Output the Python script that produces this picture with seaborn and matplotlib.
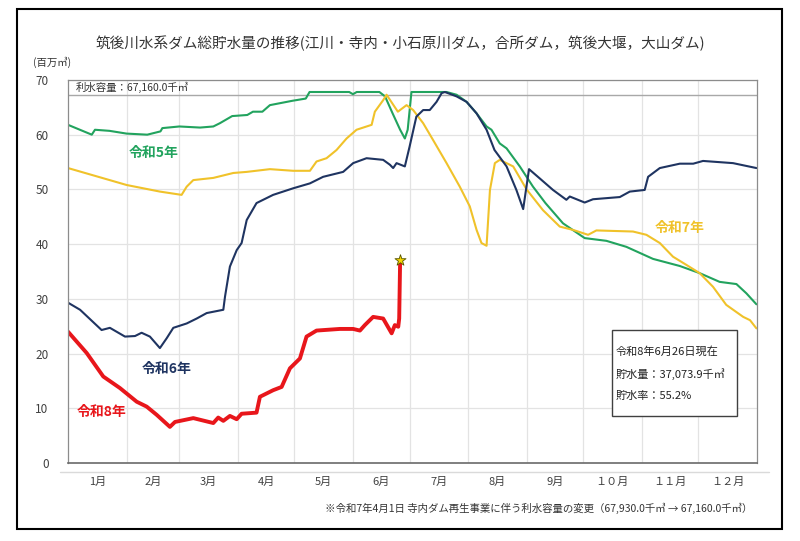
import numpy as np
import pandas as pd
import seaborn as sns
import matplotlib.pyplot as plt
from matplotlib.patches import Rectangle
from matplotlib.lines import Line2D

# 日数(1月1日=0)と総貯水量(百万㎥)
r5_day = [0, 12.6, 14.3, 22, 31, 42, 49, 50, 59, 70, 77, 80.5, 87, 95, 98, 103, 107, 119, 126, 128,
          149, 151, 153, 165, 168, 172, 176, 178.5, 180, 182, 200.6, 205.9, 211.2, 216.5, 221.8,
          224.4, 228.8, 232.4, 239.4, 246.4, 253, 262.3, 273.8, 285.3, 295.9, 310, 324.2, 334.7,
          345.3, 354.2, 359.5, 364.8]
r5_val = [61.8, 60.0, 60.9, 60.7, 60.2, 60.0, 60.6, 61.2, 61.5, 61.3, 61.5, 62.1, 63.4, 63.6, 64.2,
          64.2, 65.4, 66.2, 66.6, 67.8, 67.8, 67.4, 67.8, 67.8, 67.0, 63.9, 60.9, 59.3, 60.9, 67.8,
          67.8, 67.3, 66.0, 63.9, 61.5, 60.9, 58.4, 57.5, 54.2, 50.5, 47.5, 43.8, 41.1, 40.6, 39.5,
          37.3, 36.0, 34.7, 33.1, 32.7, 31.0, 29.0]

r6_day = [0, 6.4, 17.8, 22.2, 30.2, 35.5, 39, 43.4, 48.7, 52.3, 55.8, 62.9, 68.2, 73.5, 82.3, 83.2,
          85.8, 89.4, 92, 94.7, 99.9, 108.7, 119.3, 128.2, 135.2, 145.8, 151.1, 158.2, 167, 170.6,
          172.3, 174.1, 178.5, 181, 184.6, 188.2, 191.7, 195.3, 198, 199.7, 205.9, 211.2, 216.5,
          221.8, 226, 232.4, 237.6, 241.2, 244.3, 250, 257, 264.1, 265.9, 273.8, 278.2, 292.4,
          297.7, 305.6, 307.4, 313.6, 324.2, 331.3, 336.5, 352.4, 364.8]
r6_val = [29.3, 28.0, 24.3, 24.7, 23.1, 23.2, 23.8, 23.1, 21.0, 22.8, 24.7, 25.5, 26.4, 27.4, 28.0,
          30.4, 35.9, 38.9, 40.2, 44.4, 47.5, 49.0, 50.2, 51.1, 52.3, 53.2, 54.8, 55.7, 55.4, 54.5,
          53.9, 54.8, 54.2, 57.8, 63.3, 64.5, 64.5, 66.0, 67.6, 67.8, 67.0, 66.0, 63.9, 60.9, 57.2,
          54.2, 49.9, 46.4, 53.7, 52.0, 49.9, 48.1, 48.7, 47.6, 48.2, 48.6, 49.6, 49.9, 52.3, 53.9,
          54.7, 54.7, 55.2, 54.8, 53.9]

r7_day = [0, 31.1, 48.7, 60.2, 62.9, 66.4, 77, 87.6, 94.7, 107, 119.3, 128.2, 131.7, 137, 142.3,
          147.6, 152.9, 160.9, 162.6, 167, 168.8, 174.8, 179.4, 182.9, 188.2, 193.5, 200.6, 207.6,
          212.9, 216.5, 219.1, 221.8, 223.6, 226.2, 228.8, 235.9, 243, 251.7, 260.6, 267.6, 275.6,
          280, 299.4, 306.5, 313.6, 320.6, 327.7, 334.7, 341.8, 348.8, 357.8, 361.4, 364.8]
r7_val = [53.9, 50.8, 49.6, 49.0, 50.5, 51.7, 52.1, 53.0, 53.2, 53.7, 53.4, 53.4, 55.1, 55.7, 57.2,
          59.3, 60.9, 61.8, 64.2, 66.3, 67.3, 64.2, 65.4, 64.5, 62.1, 59.0, 54.8, 50.5, 46.9, 42.6,
          40.2, 39.7, 49.9, 54.8, 55.4, 54.2, 50.0, 46.2, 43.2, 42.6, 41.7, 42.5, 42.3, 41.7, 40.2,
          37.7, 36.2, 34.7, 32.2, 28.9, 26.7, 26.1, 24.6]

r8_day = [0, 9.9, 18.7, 27.5, 36.4, 41.7, 47, 54, 56.7, 66.4, 77, 79.6, 82.3, 85.8, 89.4, 92, 99.9,
          101.7, 108.7, 113.2, 117.6, 122.9, 126.4, 131.7, 144.1, 151.1, 154.7, 157.3, 161.7, 167,
          171.5, 173.2, 175, 175.5, 176]
r8_val = [24.0, 20.1, 15.8, 13.7, 11.2, 10.3, 8.8, 6.6, 7.5, 8.2, 7.3, 8.3, 7.7, 8.6, 8.0, 9.0, 9.2,
          12.1, 13.3, 13.9, 17.3, 19.1, 23.1, 24.2, 24.5, 24.5, 24.2, 25.2, 26.7, 26.4, 23.7, 25.2,
          24.9, 26.4, 37.0739]

capacity = 67.16
month_start = [0, 31, 59, 90, 120, 151, 181, 212, 243, 273, 304, 334, 365]
month_labels = ['1月', '2月', '3月', '4月', '5月', '6月', '7月', '8月', '9月', '１０月', '１１月', '１２月']

c5, c6, c7, c8 = '#22a35e', '#1f3461', '#f0c22a', '#e8161b'

sns.set_theme(style='white')
plt.rcParams['font.family'] = ['Noto Sans CJK JP', 'DejaVu Sans']

fig = plt.figure(figsize=(8, 5.41), dpi=100)
ax = fig.add_axes([0.085, 0.1442, 0.861, 0.708])

ax.set_xlim(0, 365)
ax.set_ylim(0, 70)
ax.set_yticks(range(0, 71, 10))
ax.set_xticks(month_start[1:-1])
ax.set_xticklabels([])
ax.set_xticks([(a + b) / 2 for a, b in zip(month_start[:-1], month_start[1:])], minor=True)
ax.set_xticklabels(month_labels, minor=True, fontsize=8, color='#404040')
ax.tick_params(axis='x', which='major', length=4, color='#d0d0d0', direction='out')
ax.tick_params(axis='x', which='minor', length=0, pad=10)
ax.tick_params(axis='y', length=0, pad=14, labelsize=8.5, labelcolor='#404040')
ax.grid(True, which='major', color='#e3e3e3', lw=0.9)
ax.set_axisbelow(True)
for side in ['left', 'right', 'top']:
    ax.spines[side].set_color('#8c8c8c')
    ax.spines[side].set_linewidth(0.9)
ax.spines['bottom'].set_color('#6a6a6a')
ax.spines['bottom'].set_linewidth(1.2)

ax.axhline(capacity, color='#a8a8a8', lw=1.0)
ax.text(4, 68.6, '利水容量：67,160.0千㎥', fontsize=7.5, va='center', color='#333333')

sns.lineplot(x=r5_day, y=r5_val, ax=ax, color=c5, lw=1.5)
sns.lineplot(x=r7_day, y=r7_val, ax=ax, color=c7, lw=1.5)
sns.lineplot(x=r6_day, y=r6_val, ax=ax, color=c6, lw=1.5)
sns.lineplot(x=r8_day, y=r8_val, ax=ax, color=c8, lw=2.8)
ax.scatter([r8_day[-1]], [r8_val[-1]], marker='*', s=70, color='#f5d400',
           edgecolor='#555500', linewidth=0.6, zorder=5)

lab = dict(fontsize=10, fontweight='bold', ha='center', va='center')
ax.text(45.6, 56.7, '令和5年', color=c5, **lab)
ax.text(52, 17.2, '令和6年', color=c6, **lab)
ax.text(18, 9.3, '令和8年', color=c8, **lab)
ax.text(324, 43.0, '令和7年', color=c7, **lab)

ax.add_patch(Rectangle((0.7896, 0.1227), 0.1814, 0.2245, transform=ax.transAxes,
                       fill=True, facecolor='white', edgecolor='#404040', lw=1, zorder=6))
for yy, s in zip([0.2898, 0.2324, 0.1749],
                 ['令和8年6月26日現在', '貯水量：37,073.9千㎥', '貯水率：55.2%']):
    ax.text(0.7954, yy, s, transform=ax.transAxes, fontsize=8, va='center',
            color='#222222', zorder=7)

fig.add_artist(Line2D([0.075, 0.961], [0.1275, 0.1275], color='#dadada', lw=1))
fig.text(0.5, 0.9205, '筑後川水系ダム総貯水量の推移(江川・寺内・小石原川ダム，合所ダム，筑後大堰，大山ダム)',
         ha='center', va='center', fontsize=10.5, color='#333333')
fig.text(0.041, 0.885, '(百万㎥)', ha='left', va='center', fontsize=7.5, color='#333333')
fig.text(0.94, 0.061, '※令和7年4月1日 寺内ダム再生事業に伴う利水容量の変更（67,930.0千㎥ → 67,160.0千㎥）',
         ha='right', va='center', fontsize=7.5, color='#333333')
fig.add_artist(Rectangle((0.021, 0.022), 0.9565, 0.961, transform=fig.transFigure,
                         fill=False, edgecolor='black', lw=1.5))

fig.savefig('out.png', dpi=100)
